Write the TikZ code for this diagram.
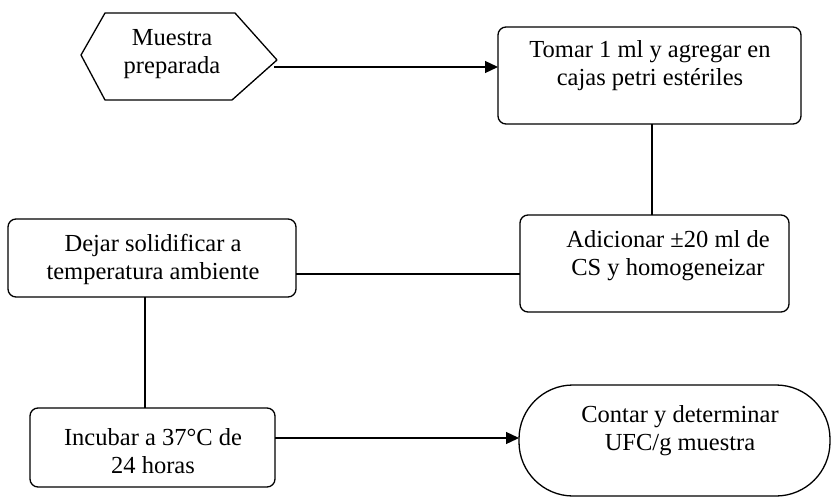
\documentclass[tikz,border=0pt]{standalone}
\usepackage{fontspec}
\setmainfont{Liberation Serif}
\usetikzlibrary{arrows.meta}
\begin{document}
\begin{tikzpicture}[x=1pt,y=-1pt,
  every node/.style={inner sep=0pt,outer sep=0pt},
  stepbox/.style={draw,rectangle,line width=1.3pt,rounded corners=8pt},
  endbox/.style={draw,rectangle,line width=1.3pt,rounded corners=54pt},
  caption/.style={align=center,font=\fontsize{24.5}{28}\selectfont},
  link/.style={line width=1.3pt},
  flow/.style={link,-{Triangle[length=13pt,width=12pt]}}]
\useasboundingbox (0,0) rectangle (833,498);

% start symbol: hexagon with its caption
\draw[link,line join=round] (81,55) -- (105,13) -- (235,13) -- (277,60)
  -- (232,100) -- (105,100) -- cycle;
\node[caption] (startT) at (172,54) {Muestra\\preparada};
\coordinate (startOut) at (274,67);

% process boxes
\node[stepbox,minimum width=303pt,minimum height=97pt] (tomar) at (649.5,75.5) {};
\node[caption] (tomarT) at (650,66) {Tomar 1 ml y agregar en\\cajas petri estériles};

\node[stepbox,minimum width=269pt,minimum height=97pt] (adic) at (654.5,263.5) {};
\node[caption] (adicT) at (668,256) {Adicionar ±20 ml de\\CS y homogeneizar};

\node[stepbox,minimum width=288pt,minimum height=78pt] (dejar) at (152,258) {};
\node[caption] (dejarT) at (153,259) {Dejar solidificar a\\temperatura ambiente};

\node[stepbox,minimum width=245pt,minimum height=79pt] (inc) at (152.5,447.5) {};
\node[caption] (incT) at (153,451) {Incubar a 37°C de\\24 horas};

% terminal
\node[endbox,minimum width=311pt,minimum height=111pt] (contar) at (674.5,440.5) {};
\node[caption] (contarT) at (680,431) {Contar y determinar\\UFC/g muestra};

% connectors
\draw[flow] (startOut) -- (startOut -| tomar.west);
\draw[link] ([xshift=2.5pt]tomar.south) -- ([xshift=2.5pt]tomar.south |- adic.north);
\draw[link] ([yshift=-16pt]dejar.east) -- ([yshift=-16pt]dejar.east -| adic.west);
\draw[link] ([xshift=-7pt]dejar.south) -- ([xshift=-7pt]dejar.south |- inc.north);
\draw[flow] ([yshift=9.5pt]inc.east) -- ([yshift=9.5pt]inc.east -| contar.west);
\end{tikzpicture}
\end{document}
